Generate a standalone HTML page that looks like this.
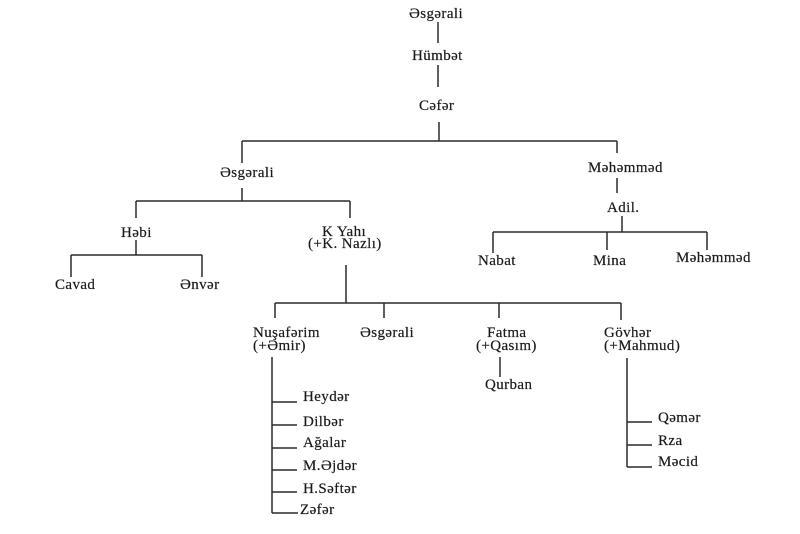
<!DOCTYPE html>
<html><head><meta charset="utf-8">
<style>
html,body{margin:0;padding:0;background:#fff;}
svg{display:block;}
text{font-family:"Liberation Serif","DejaVu Serif",serif;font-size:15px;fill:#1a1a1a;stroke:#1a1a1a;stroke-width:0.2px;letter-spacing:0.4px;}
line{stroke:#2a2a2a;stroke-width:1.5;}
</style></head>
<body>
<svg width="800" height="534" viewBox="0 0 800 534" xmlns="http://www.w3.org/2000/svg">
<rect width="800" height="534" fill="#fff"/>
<!-- top chain -->
<text x="409" y="18">Əsgərali</text>
<line x1="438" y1="22" x2="438" y2="43"/>
<text x="412" y="60">Hümbət</text>
<line x1="438" y1="65" x2="438" y2="87"/>
<text x="419" y="110">Cəfər</text>
<line x1="439" y1="122" x2="439" y2="141"/>
<line x1="242" y1="141" x2="617" y2="141"/>
<line x1="242" y1="141" x2="242" y2="163"/>
<line x1="617" y1="141" x2="617" y2="153"/>

<!-- left branch -->
<text x="220" y="177">Əsgərali</text>
<line x1="242" y1="188" x2="242" y2="201"/>
<line x1="136" y1="201" x2="350" y2="201"/>
<line x1="136" y1="201" x2="136" y2="218"/>
<line x1="350" y1="201" x2="350" y2="218"/>
<text x="121" y="237">Həbi</text>
<line x1="136" y1="240" x2="136" y2="255"/>
<line x1="71" y1="255" x2="202" y2="255"/>
<line x1="71" y1="255" x2="71" y2="277"/>
<line x1="202" y1="255" x2="202" y2="277"/>
<text x="55" y="289">Cavad</text>
<text x="180" y="289">Ənvər</text>

<text x="322" y="236">K Yahı</text>
<text x="308" y="248">(+K. Nazlı)</text>
<line x1="346" y1="265" x2="346" y2="303"/>
<line x1="275" y1="303" x2="621" y2="303"/>
<line x1="275" y1="303" x2="275" y2="318"/>
<line x1="384" y1="303" x2="384" y2="318"/>
<line x1="499" y1="303" x2="499" y2="318"/>
<line x1="621" y1="303" x2="621" y2="320"/>

<text x="253" y="337">Nuşafərim</text>
<text x="253" y="350">(+Əmir)</text>
<text x="360" y="337">Əsgərali</text>
<text x="487" y="337">Fatma</text>
<text x="476" y="350">(+Qasım)</text>
<line x1="500" y1="357" x2="500" y2="377"/>
<text x="485" y="389">Qurban</text>
<text x="604" y="337">Gövhər</text>
<text x="604" y="350">(+Mahmud)</text>

<!-- Nuşafərim children -->
<line x1="272" y1="357" x2="272" y2="513"/>
<line x1="272" y1="402" x2="297" y2="402"/>
<line x1="272" y1="425" x2="297" y2="425"/>
<line x1="272" y1="448" x2="297" y2="448"/>
<line x1="272" y1="470" x2="297" y2="470"/>
<line x1="272" y1="492" x2="297" y2="492"/>
<line x1="272" y1="513" x2="298" y2="513"/>
<text x="303" y="401">Heydər</text>
<text x="303" y="426">Dilbər</text>
<text x="303" y="447">Ağalar</text>
<text x="303" y="470">M.Əjdər</text>
<text x="303" y="493">H.Səftər</text>
<text x="300" y="514">Zəfər</text>

<!-- Gövhər children -->
<line x1="627" y1="358" x2="627" y2="467"/>
<line x1="627" y1="422" x2="652" y2="422"/>
<line x1="627" y1="445" x2="652" y2="445"/>
<line x1="627" y1="467" x2="652" y2="467"/>
<text x="658" y="422">Qəmər</text>
<text x="658" y="445">Rza</text>
<text x="658" y="466">Məcid</text>

<!-- right branch -->
<text x="588" y="172">Məhəmməd</text>
<line x1="617" y1="178" x2="617" y2="193"/>
<text x="607" y="212">Adil.</text>
<line x1="622" y1="216" x2="622" y2="232"/>
<line x1="493" y1="232" x2="707" y2="232"/>
<line x1="493" y1="232" x2="493" y2="253"/>
<line x1="607" y1="232" x2="607" y2="250"/>
<line x1="707" y1="232" x2="707" y2="250"/>
<text x="478" y="265">Nabat</text>
<text x="593" y="265">Mina</text>
<text x="676" y="262">Məhəmməd</text>
</svg>
</body></html>
